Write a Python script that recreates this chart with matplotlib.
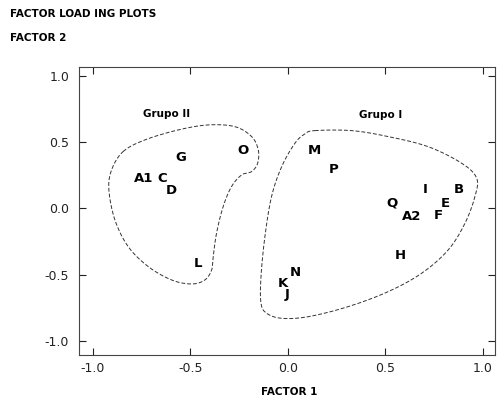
import numpy as np
import matplotlib
matplotlib.use("Agg")
import matplotlib.pyplot as plt

# factor loadings (factor 1, factor 2)
labels = ["A1", "C", "G", "D", "O", "L",
          "M", "P", "I", "B", "Q", "E", "A2", "F", "H", "N", "K", "J"]
factor1 = [-0.742, -0.643, -0.549, -0.600, -0.229, -0.460,
           0.138, 0.236, 0.703, 0.877, 0.532, 0.805, 0.634, 0.771, 0.574, 0.039, -0.024, -0.004]
factor2 = [0.228, 0.228, 0.383, 0.132, 0.434, -0.419,
           0.434, 0.291, 0.140, 0.140, 0.039, 0.039, -0.062, -0.057, -0.356, -0.482, -0.565, -0.653]

# hand drawn group outlines
grupo2_x = [-0.845, -0.733, -0.563, -0.409, -0.272, -0.186, -0.152, -0.155, -0.186, -0.237,
            -0.289, -0.332, -0.366, -0.383, -0.391, -0.426, -0.494, -0.596, -0.716, -0.819,
            -0.887, -0.918, -0.904]
grupo2_y = [0.429, 0.517, 0.592, 0.630, 0.617, 0.542, 0.442, 0.341, 0.278, 0.253,
            0.165, 0.014, -0.187, -0.364, -0.464, -0.540, -0.570, -0.540, -0.439, -0.288,
            -0.087, 0.140, 0.291]
grupo1_x = [0.138, 0.327, 0.514, 0.719, 0.891, 0.968, 0.959, 0.908, 0.822, 0.686, 0.514,
            0.309, 0.104, -0.032, -0.109, -0.138, -0.138, -0.118, -0.084, -0.032, 0.036, 0.087]
grupo1_y = [0.587, 0.587, 0.542, 0.466, 0.341, 0.228, 0.089, -0.112, -0.313, -0.489, -0.628,
            -0.741, -0.817, -0.829, -0.791, -0.715, -0.515, -0.213, 0.089, 0.315, 0.492, 0.562]

group_names = ["Grupo II", "Grupo I"]
group_pos = [(-0.62, 0.71), (0.475, 0.705)]

ticks = [-1.0, -0.5, 0.0, 0.5, 1.0]


def closed_curve(x, y, n=20):
    # periodic catmull-rom through the outline points
    p = np.column_stack([x, y])
    m = len(p)
    t = np.linspace(0, 1, n, endpoint=False)[:, None]
    segs = []
    for i in range(m):
        p0, p1, p2, p3 = p[(i - 1) % m], p[i], p[(i + 1) % m], p[(i + 2) % m]
        segs.append(0.5 * (2 * p1 + (-p0 + p2) * t
                           + (2 * p0 - 5 * p1 + 4 * p2 - p3) * t ** 2
                           + (-p0 + 3 * p1 - 3 * p2 + p3) * t ** 3))
    segs.append(p[:1])
    out = np.vstack(segs)
    return out[:, 0], out[:, 1]


fig = plt.figure(figsize=(4.99, 3.98), dpi=100)
ax = fig.add_axes([0.158, 0.108, 0.834, 0.724])

for gx, gy in [(grupo2_x, grupo2_y), (grupo1_x, grupo1_y)]:
    cx, cy = closed_curve(gx, gy)
    ax.plot(cx, cy, color="#333333", lw=0.7, linestyle=(0, (4, 2)))

for lab, x, y in zip(labels, factor1, factor2):
    ax.text(x, y, lab, ha="center", va="center", fontsize=9.5,
            fontweight="bold", family="DejaVu Sans")

for name, (x, y) in zip(group_names, group_pos):
    ax.text(x, y, name, ha="center", va="center", fontsize=7.5, fontweight="bold")

ax.set_xlim(-1.072, 1.062)
ax.set_ylim(-1.106, 1.068)
ax.set_xticks(ticks)
ax.set_yticks(ticks)
ax.xaxis.set_major_formatter(matplotlib.ticker.FormatStrFormatter("%.1f"))
ax.yaxis.set_major_formatter(matplotlib.ticker.FormatStrFormatter("%.1f"))
ax.tick_params(direction="in", length=5, width=0.8, labelsize=9, pad=5,
               top=True, right=True, colors="#222222")
ax.tick_params(axis="y", pad=7)
for sp in ax.spines.values():
    sp.set_linewidth(0.8)
    sp.set_color("#444444")

fig.text(0.58, 0.015, "FACTOR 1", fontsize=7.5, fontweight="bold",
         ha="center", va="center")
fig.text(0.02, 0.965, "FACTOR LOAD ING PLOTS", fontsize=7.5, fontweight="bold",
         ha="left", va="center")
fig.text(0.02, 0.905, "FACTOR 2", fontsize=7.5, fontweight="bold",
         ha="left", va="center")

fig.savefig("out.png", dpi=100)
